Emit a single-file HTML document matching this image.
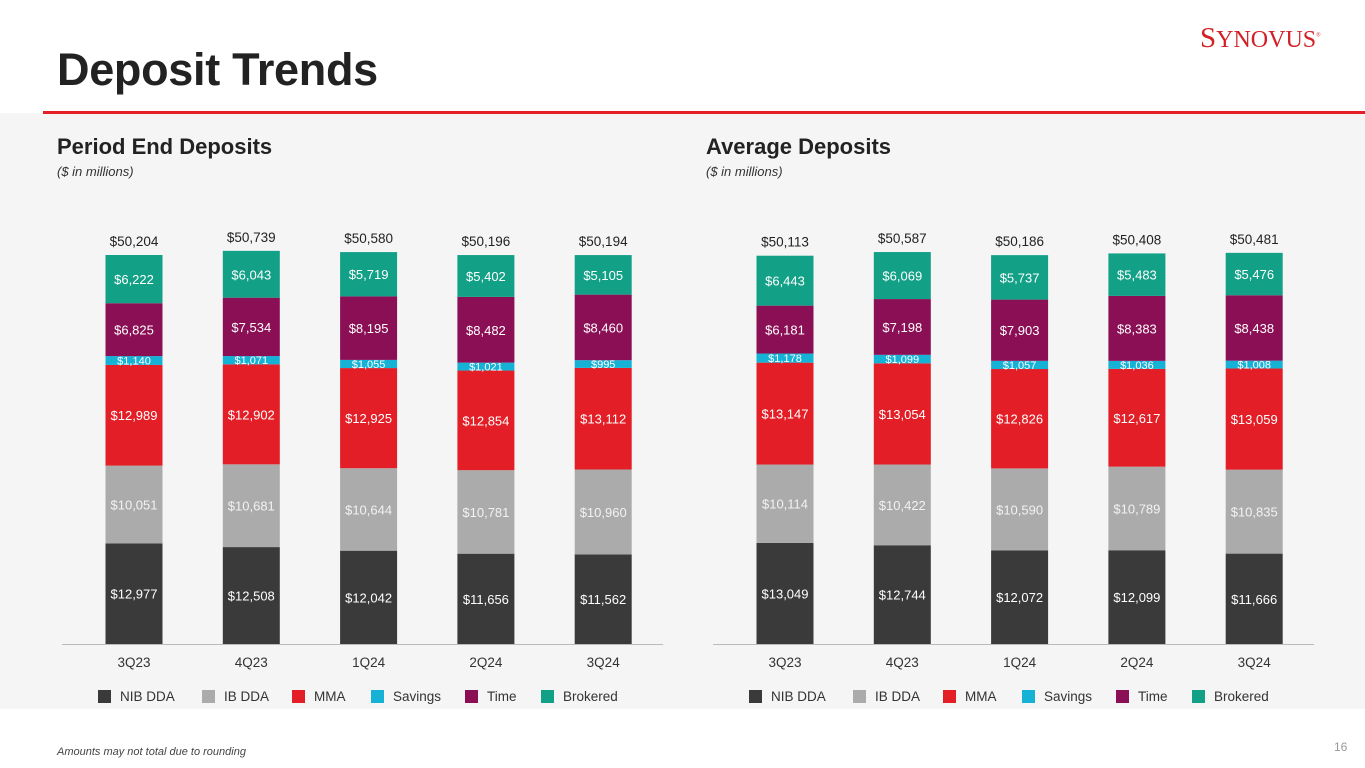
<!DOCTYPE html>
<html><head><meta charset="utf-8"><style>
body{margin:0;width:1365px;height:768px;background:#fff;font-family:"Liberation Sans",sans-serif;overflow:hidden;position:relative}
.abs{position:absolute}
</style></head><body>
<div class="abs" style="left:57px;top:44px;font-size:45px;font-weight:bold;color:#222;letter-spacing:-0.3px">Deposit Trends</div>
<div class="abs" style="left:1200px;top:22px;font-family:'Liberation Serif',serif;font-size:29px;color:#d32027;letter-spacing:0px">S<span style="font-size:24px">YNOVUS</span><sup style="font-size:6px">®</sup></div>
<div class="abs" style="left:0;top:113px;width:1365px;height:596px;background:#f5f5f5"></div>
<div class="abs" style="left:43px;top:111px;width:1322px;height:3px;background:#e32028"></div>
<div class="abs" style="left:57px;top:134px;font-size:22px;font-weight:bold;color:#222">Period End Deposits</div>
<div class="abs" style="left:57px;top:164px;font-size:13px;font-style:italic;color:#333">($ in millions)</div>
<div class="abs" style="left:706px;top:134px;font-size:22px;font-weight:bold;color:#222">Average Deposits</div>
<div class="abs" style="left:706px;top:164px;font-size:13px;font-style:italic;color:#333">($ in millions)</div>
<div class="abs" style="left:57px;top:746px;font-size:11px;font-style:italic;color:#444">Amounts may not total due to rounding</div>
<div class="abs" style="left:1334px;top:740px;font-size:12px;color:#999">16</div>
<svg class="abs" id="chart" style="left:0;top:0" width="1365" height="768"></svg>
<script>
const categories=["3Q23","4Q23","1Q24","2Q24","3Q24"];
const seriesNames=["NIB DDA","IB DDA","MMA","Savings","Time","Brokered"];
const seriesColors=["#3a3a3a","#ababab","#e31e26","#16b2d6","#8b0f55","#12a086"];
const periodNib=[12977,12508,12042,11656,11562];
const periodIb=[10051,10681,10644,10781,10960];
const periodMma=[12989,12902,12925,12854,13112];
const periodSav=[1140,1071,1055,1021,995];
const periodTime=[6825,7534,8195,8482,8460];
const periodBrk=[6222,6043,5719,5402,5105];
const periodTotals=["$50,204","$50,739","$50,580","$50,196","$50,194"];
const avgNib=[13049,12744,12072,12099,11666];
const avgIb=[10114,10422,10590,10789,10835];
const avgMma=[13147,13054,12826,12617,13059];
const avgSav=[1178,1099,1057,1036,1008];
const avgTime=[6181,7198,7903,8383,8438];
const avgBrk=[6443,6069,5737,5483,5476];
const avgTotals=["$50,113","$50,587","$50,186","$50,408","$50,481"];

const svg=document.getElementById('chart');
const NS="http://www.w3.org/2000/svg";
function mk(t,a){const e=document.createElementNS(NS,t);for(const k in a)e.setAttribute(k,a[k]);svg.appendChild(e);return e;}
const base=644,scale=389/50204;
function yv(v){return base-v*scale;}
function fmt(v){return "$"+v.toLocaleString("en-US");}
function draw(prefix,x0,series,totals){
  const step=117.3,bw=57;
  const ax=mk('line',{x1:x0-72,x2:x0+4*step+60,y1:base+0.5,y2:base+0.5,stroke:'#bbb','stroke-width':1});
  
  
  categories.forEach((c,i)=>{
    const cx=x0+i*step;let cum=0;
    series.forEach((arr,s)=>{
      const v=arr[i];const y1=yv(cum),y2=yv(cum+v);
      const r=mk('rect',{x:cx-bw/2,y:y2,width:bw,height:y1-y2,fill:seriesColors[s]});
      
      
      const small=s===3;
      const t=mk('text',{x:cx,y:(y1+y2)/2+(small?4:5),'text-anchor':'middle',fill:s===1?'#f2f2f2':'#fff','font-size':small?11:13});
      t.textContent=fmt(v);
      
      
      cum+=v;
    });
    const tt=mk('text',{x:cx,y:yv(cum)-9,'text-anchor':'middle',fill:'#222','font-size':13.5});
    tt.textContent=totals[i];
    
    
    const cl=mk('text',{x:cx,y:667,'text-anchor':'middle',fill:'#333','font-size':13.5});
    cl.textContent=c;
    
    
  });
  const lx=[x0-36,x0+68,x0+158,x0+237,x0+331,x0+407];
  seriesNames.forEach((n,s)=>{
    const r=mk('rect',{x:lx[s],y:690,width:13,height:13,fill:seriesColors[s]});
    
    
    const t=mk('text',{x:lx[s]+22,y:701,fill:'#333','font-size':13.5});
    t.textContent=n;
    
    
  });
}
draw('period',134,[periodNib,periodIb,periodMma,periodSav,periodTime,periodBrk],periodTotals);
draw('average',785,[avgNib,avgIb,avgMma,avgSav,avgTime,avgBrk],avgTotals);
</script>
</body></html>
